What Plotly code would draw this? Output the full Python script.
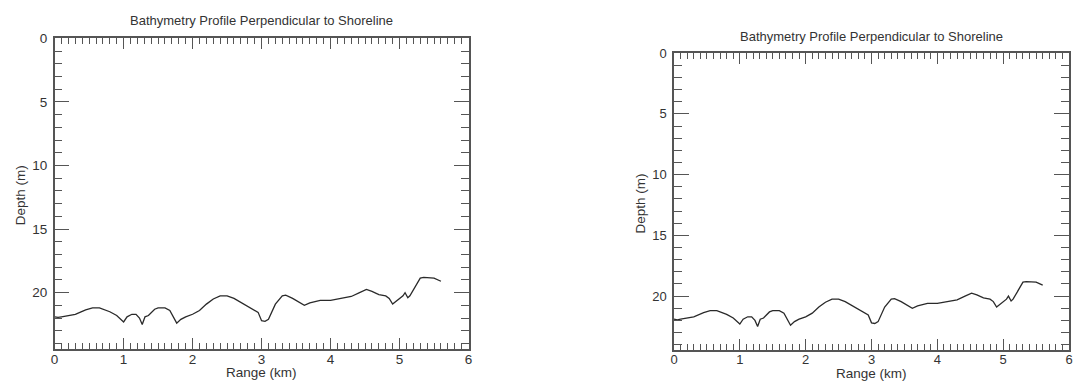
import plotly.graph_objects as go

# Bathymetry profile data
range_km = [0.0, 0.05, 0.1, 0.3, 0.45, 0.55, 0.65, 0.8, 0.9, 0.97, 1.0, 1.05, 1.12, 1.18, 1.23, 1.27,
            1.31, 1.36, 1.45, 1.5, 1.6, 1.67, 1.72, 1.77, 1.83, 1.9, 2.0, 2.1, 2.2, 2.3, 2.4, 2.5,
            2.6, 2.8, 2.95, 3.0, 3.05, 3.1, 3.2, 3.3, 3.35, 3.45, 3.55, 3.62, 3.7, 3.85, 4.0, 4.1,
            4.2, 4.3, 4.42, 4.52, 4.6, 4.7, 4.8, 4.85, 4.9, 4.95, 5.05, 5.08, 5.12, 5.15, 5.2, 5.25,
            5.3, 5.35, 5.45, 5.5, 5.6]
depth_m = [21.9, 21.95, 21.9, 21.7, 21.35, 21.2, 21.2, 21.5, 21.8, 22.15, 22.3, 21.9, 21.7, 21.7, 22.0, 22.5,
           21.9, 21.8, 21.3, 21.2, 21.2, 21.4, 21.9, 22.4, 22.1, 21.9, 21.7, 21.4, 20.9, 20.5, 20.25, 20.25,
           20.45, 21.1, 21.55, 22.2, 22.25, 22.1, 20.9, 20.25, 20.2, 20.45, 20.8, 21.0, 20.8, 20.6, 20.6, 20.5,
           20.4, 20.3, 20.0, 19.75, 19.9, 20.15, 20.25, 20.45, 20.9, 20.7, 20.25, 20.0, 20.4, 20.25, 19.8, 19.3,
           18.85, 18.8, 18.85, 18.85, 19.1]

title_text = "Bathymetry Profile Perpendicular to Shoreline"
x_title = "Range (km)"
y_title = "Depth (m)"
x_ticks = [0, 1, 2, 3, 4, 5, 6]
y_ticks = [0, 5, 10, 15, 20]

W, H = 1078, 381
FONT = "Liberation Sans, Arial, Helvetica, sans-serif"
AXC = "#555555"
TXC = "#333333"

fig = go.Figure()

panels = [
    # (xaxis name, yaxis name, left px, right px, top px, bottom px, font size, title y px)
    ("x", "y", 51, 468, 32, 348, 13.5, 14),
    ("x2", "y2", 675, 1073, 47, 349, 13, 30),
]

layout_updates = {}
annotations = []
for i, (xa, ya, l, r, t, b, fs, ty) in enumerate(panels):
    fig.add_trace(go.Scatter(x=range_km, y=depth_m, mode="lines",
                             line=dict(color="#2a2a2a", width=1.3),
                             xaxis=xa, yaxis=ya, showlegend=False))
    xkey = "xaxis" if i == 0 else "xaxis2"
    ykey = "yaxis" if i == 0 else "yaxis2"
    layout_updates[xkey] = dict(
        domain=[l / W, r / W], anchor=ya, range=[0, 6],
        tickvals=x_ticks, ticks="inside", ticklen=11, tickwidth=1.3, tickcolor=AXC,
        minor=dict(dtick=0.1, tick0=0, ticks="inside", ticklen=6, tickwidth=1.1, tickcolor=AXC, showgrid=False),
        showline=True, linecolor=AXC, linewidth=1.5, mirror="ticks",
        showgrid=False, zeroline=False, ticklabelstandoff=-3,
        tickfont=dict(family=FONT, size=fs, color=TXC),
    )
    layout_updates[ykey] = dict(
        domain=[1 - b / H, 1 - t / H], anchor=xa, range=[24.4, 0],
        tickvals=y_ticks, ticks="inside", ticklen=15, tickwidth=1.3, tickcolor=AXC,
        minor=dict(dtick=1, tick0=0, ticks="inside", ticklen=8, tickwidth=1.1, tickcolor=AXC, showgrid=False),
        showline=True, linecolor=AXC, linewidth=1.5, mirror="ticks",
        showgrid=False, zeroline=False, ticklabelstandoff=3,
        tickfont=dict(family=FONT, size=fs, color=TXC),
    )
    cx = (l + r) / 2
    annotations.append(dict(text=title_text, x=cx / W, y=1 - ty / H, xref="paper", yref="paper",
                            xanchor="center", yanchor="middle", showarrow=False,
                            font=dict(family=FONT, size=13, color=TXC)))
    annotations.append(dict(text=x_title, x=cx / W, y=1 - (b + 24) / H, xref="paper", yref="paper",
                            xanchor="center", yanchor="middle", showarrow=False,
                            font=dict(family=FONT, size=13.5, color=TXC)))
    annotations.append(dict(text=y_title, x=(l - 34) / W, y=1 - ((t + b) / 2 + 2) / H, xref="paper", yref="paper",
                            xanchor="center", yanchor="middle", showarrow=False, textangle=-90,
                            font=dict(family=FONT, size=13.5, color=TXC)))

fig.update_layout(
    width=W, height=H, margin=dict(l=0, r=0, t=0, b=0),
    paper_bgcolor="white", plot_bgcolor="white",
    annotations=annotations, **layout_updates,
)

fig.write_html("out.html")
